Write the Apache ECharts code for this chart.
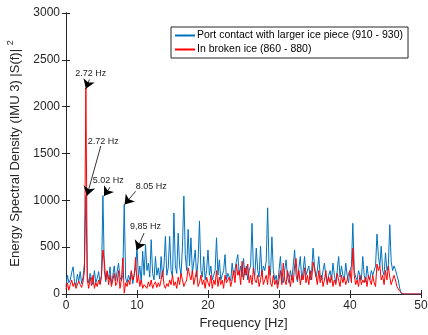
<!DOCTYPE html>
<html><head><meta charset="utf-8">
<script src="https://cdn.jsdelivr.net/npm/echarts@6/dist/echarts.min.js"></script>
<style>html,body{margin:0;padding:0;background:#fff}#c{width:428px;height:335px}</style>
</head><body><div id="c"></div>
<script>
// Frequency step 0.2 Hz, 0 .. 50 Hz
const freqStep = 0.2;
const seriesNames = ['Port contact with larger ice piece (910 - 930)', 'In broken ice (860 - 880)'];
const xTicks = [0, 10, 20, 30, 40, 50];
const yTicks = [0, 500, 1000, 1500, 2000, 2500, 3000];
const portContact = [
 80,200,120,150,230, 290,130,90,210,140, 240,110,180,330,1050, 180,120,220,160,100,
 250,120,170,240,110, 200,1050,250,130,230, 160,290,110,200,300, 140,240,330,180,140,
 200,955,170,120,200, 150,240,110,200,280, 500,180,300,120,455, 200,525,250,330,180,
 580,220,150,400,200, 280,160,400,180,300, 615,200,280,615,250, 180,865,300,220,650,
 300,200,500,1045,420, 250,690,300,600,220, 200,470,180,350,780, 250,180,400,150,250,
 470,200,300,150,200, 250,600,200,365,150, 200,250,420,150,220, 180,140,330,200,260,
 350,420,200,300,180, 380,200,300,150,250, 300,755,250,200,490, 250,180,510,200,300,
 250,350,920,300,200, 610,250,150,200,100, 250,400,150,120,250, 365,180,120,250,150,
 300,470,200,130,280, 400,150,250,400,200, 180,300,150,250,490, 300,180,250,400,200,
 150,250,330,180,120, 200,250,150,330,200, 120,250,400,180,300, 200,150,330,200,120,
 250,300,755,250,180, 150,250,200,150,400, 200,130,300,180,150, 250,200,180,300,640,
 400,300,510,250,200, 440,250,300,740,350, 250,300,260,200,150, 60,10,0,0,0,
 0,0,0,0,0, 0,0,0,0,0, 0
];
const brokenIce = [
 50,120,40,100,150, 80,120,60,50,140, 100,70,130,250,2200, 150,60,180,90,200,
 60,120,80,150,100, 200,470,350,150,250, 100,200,80,150,220, 90,120,250,60,150,
 385,10,120,80,150, 100,250,150,200,390, 120,200,80,150,60, 100,120,60,130,80,
 150,60,100,130,70, 120,80,150,250,100, 60,110,80,150,100, 200,90,130,60,180,
 100,220,150,80,120, 150,280,200,150,250, 100,180,250,80,120, 200,100,150,60,180,
 120,80,200,60,150, 100,250,80,180,100, 150,60,200,120,100, 180,80,150,250,120,
 320,200,250,100,350, 150,280,200,320,120, 200,100,280,150,120, 200,80,150,250,100,
 150,200,100,300,120, 80,200,100,150,60, 150,250,100,330,150, 100,250,180,80,200,
 120,300,380,150,250, 100,200,150,280,120, 200,100,250,150,340, 340,200,100,250,120,
 200,80,150,250,100, 180,120,200,80,150, 100,220,150,80,200, 120,180,100,150,220,
 250,120,490,200,100, 150,80,200,100,150, 120,180,80,200,150, 100,200,120,80,320,
 250,300,150,200,100, 250,150,300,180,100, 120,200,150,80,60, 30,10,0,0,0,
 0,0,0,0,0, 0,0,0,0,0, 0
];
const toPairs = arr => arr.map((v, i) => [+(i * freqStep).toFixed(1), v]);

const axisColor = '#262626';
const font = 'Liberation Sans';
const chart = echarts.init(document.getElementById('c'), null, {renderer: 'canvas'});
const arrow = (from, to) => [{coord: from}, {coord: to}];
chart.setOption({
  animation: false,
  textStyle: {fontFamily: font},
  grid: {left: 66, right: 7, top: 13, bottom: 41, containLabel: false, outerBoundsMode: 'none'},
  legend: {
    data: seriesNames, orient: 'vertical', left: 171, top: 27,
    itemWidth: 20, itemHeight: 2, itemGap: 3,
    borderColor: axisColor, borderWidth: 1, backgroundColor: '#fff',
    padding: [3, 5, 3, 3],
    textStyle: {fontFamily: font, fontSize: 10.5, color: '#000', padding: [0,0,0,-3]}
  },
  xAxis: [{
    type: 'value', min: 0, max: 50, interval: 10, position: 'bottom',
    name: 'Frequency [Hz]', nameLocation: 'middle', nameGap: 22,
    nameTextStyle: {fontSize: 13, color: axisColor, fontFamily: font},
    axisLine: {lineStyle: {color: axisColor, width: 1}},
    axisTick: {inside: true, length: 4, lineStyle: {color: axisColor}},
    axisLabel: {fontSize: 12, color: axisColor, margin: 6, formatter: v => String(v)},
    splitLine: {show: false}
  }, {
    type: 'value', min: 0, max: 50, interval: 10, position: 'top',
    axisLine: {lineStyle: {color: axisColor, width: 1}},
    axisTick: {inside: true, length: 4, lineStyle: {color: axisColor}},
    axisLabel: {show: false}, splitLine: {show: false}
  }],
  yAxis: [{
    type: 'value', min: 0, max: 3000, interval: 500, position: 'left',
    name: 'Energy Spectral Density (IMU 3) |S(f)| {sup|2}',
    nameLocation: 'middle', nameGap: 36,
    nameTextStyle: {fontSize: 13, color: axisColor, fontFamily: font,
      rich: {sup: {fontSize: 9, verticalAlign: 'top', padding: [0,0,10,0], color: axisColor}}},
    axisLine: {show: true, lineStyle: {color: axisColor, width: 1}},
    axisTick: {show: true, inside: true, length: 4, lineStyle: {color: axisColor}},
    axisLabel: {fontSize: 12, color: axisColor, margin: 6, formatter: v => String(v)},
    splitLine: {show: false}
  }, {
    type: 'value', min: 0, max: 3000, interval: 500, position: 'right',
    axisLine: {show: true, lineStyle: {color: axisColor, width: 1}},
    axisTick: {show: true, inside: true, length: 4, lineStyle: {color: axisColor}},
    axisLabel: {show: false}, splitLine: {show: false}
  }],
  series: [{
    name: seriesNames[0], type: 'line', data: toPairs(portContact),
    symbol: 'none', lineStyle: {color: '#0072BD', width: 1}, itemStyle: {color: '#0072BD'},
    z: 2,
    markLine: {
      silent: true, symbol: ['none', 'arrow'], symbolSize: 9,
      lineStyle: {color: '#000', width: 0.8, type: 'solid'},
      label: {show: false},
      data: [
        arrow([3.3, 2290], [2.8, 2190]),
        arrow([4.9, 1580], [2.95, 1050]),
        arrow([6.2, 1140], [5.35, 1045]),
        arrow([9.8, 1096], [8.25, 955]),
        arrow([11.0, 651], [9.95, 470])
      ]
    },
    markPoint: {
      silent: true, symbol: 'circle', symbolSize: 0,
      label: {show: true, position: 'inside', color: '#222', fontSize: 9, fontFamily: font, formatter: p => p.name},
      data: [
        {name: '2.72 Hz', coord: [3.5, 2355]},
        {name: '2.72 Hz', coord: [5.25, 1627]},
        {name: '5.02 Hz', coord: [5.95, 1210]},
        {name: '8.05 Hz', coord: [12.0, 1146]},
        {name: '9,85 Hz', coord: [11.2, 719]}
      ]
    }
  }, {
    name: seriesNames[1], type: 'line', data: toPairs(brokenIce),
    symbol: 'none', lineStyle: {color: '#FF0000', width: 1}, itemStyle: {color: '#FF0000'},
    z: 3
  }]
});
</script></body></html>
